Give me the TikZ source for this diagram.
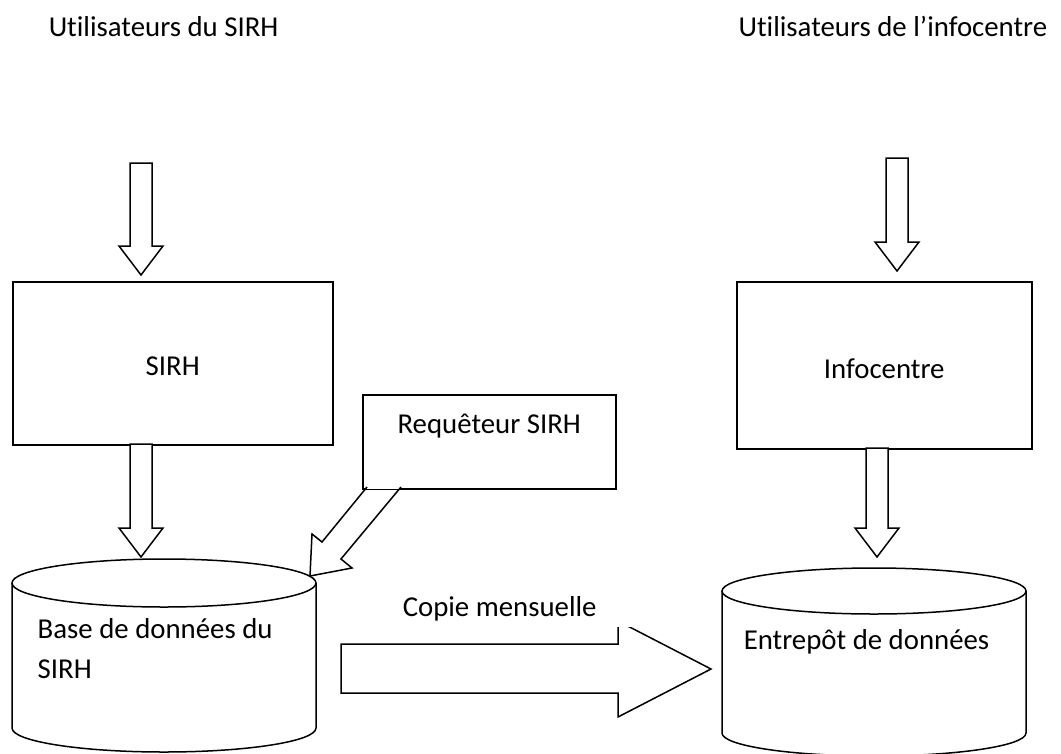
\documentclass[tikz,border=0pt]{standalone}
\usepackage{fontspec}
\setmainfont{Carlito}[Ligatures=NoCommon]
\begin{document}
\begin{tikzpicture}[x=1pt,y=-1pt,line width=1.5pt,line join=miter,
  lbl/.style={font=\fontsize{28.8}{40}\selectfont,inner sep=0pt},
  box/.style={draw,fill=white},
  blk/.style={draw,fill=white,line join=miter}]
\useasboundingbox (0,0) rectangle (1061,753);
\fill[white] (0,0) rectangle (1061,753);

% top labels
\node[lbl,anchor=base west] (usirh) at (48,36) {Utilisateurs du SIRH};
\node[lbl,anchor=base east] (uinfo) at (1048,36) {Utilisateurs de l’infocentre};

% boxes
\node[box,minimum width=320pt,minimum height=163pt,anchor=north west,inner sep=0pt] (sirh) at (12,281) {};
\node[lbl,anchor=base] (sirhtxt) at (sirh.north |- 0,375) {SIRH};
\node[box,minimum width=295pt,minimum height=167pt,anchor=north west,inner sep=0pt] (info) at (736,281) {};
\node[lbl,anchor=base] (infotxt) at (info.north |- 0,378) {Infocentre};
\node[box,minimum width=253pt,minimum height=94pt,anchor=north west,inner sep=0pt] (req) at (362,394) {};
\node[lbl,anchor=base] (reqtxt) at (req.north |- 0,433) {Requêteur SIRH};

% cylinders
\draw[fill=white] (12,583) -- (12,728) arc[start angle=180,end angle=0,x radius=152,y radius=24] -- (316,583);
\draw[fill=white] (164,583) ellipse[x radius=152,y radius=24];
\node[lbl,anchor=base west] (db1) at (37,638) {Base de données du};
\node[lbl,anchor=base west] (db1b) at (37,678) {SIRH};

\draw[fill=white] (722,591) -- (722,733) arc[start angle=180,end angle=0,x radius=152,y radius=23] -- (1026,591);
\draw[fill=white] (874,591) ellipse[x radius=152,y radius=23];
\node[lbl,anchor=base west] (db2) at (743,649) {Entrepôt de données};

% vertical block arrows
\newcommand\dnblock[3]{%
  \draw[blk] (#1-11,#2) -- (#1+11,#2) -- (#1+11,#3-29) -- (#1+22,#3-29) -- (#1,#3)
    -- (#1-22,#3-29) -- (#1-11,#3-29) -- cycle;}
\dnblock{141}{163}{275}
\dnblock{141}{444}{557}
\dnblock{897}{158}{271}
\dnblock{877}{448}{557}

% diagonal arrow from requeteur
\draw[blk] (367,487) -- (322,542) -- (312,534) -- (310,576) -- (352,568) -- (341,559) -- (401,487);
\draw (req.south west) -- (req.south east);

% big arrow
\draw[blk] (341,644) -- (618,644) -- (618,621) -- (711,669) -- (618,717) -- (618,693) -- (341,693) -- cycle;
\fill[white] (390,585) rectangle (640,627);
\node[lbl,anchor=base west] (copie) at (402,616) {Copie mensuelle};
\end{tikzpicture}
\end{document}
